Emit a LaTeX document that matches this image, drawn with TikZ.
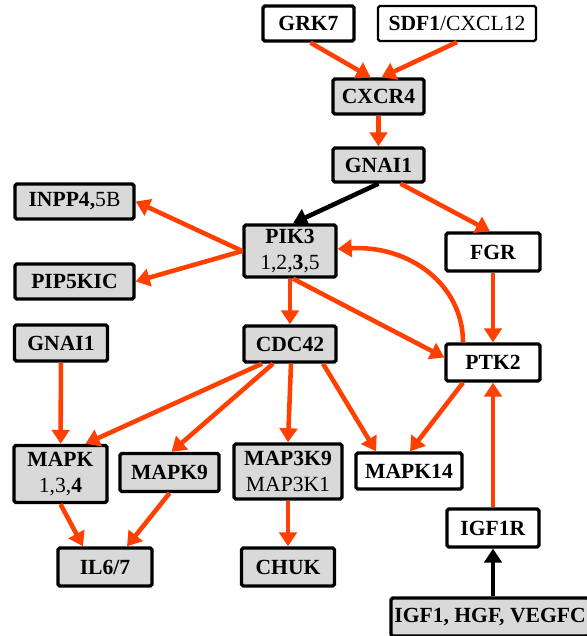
\documentclass[tikz,border=0pt]{standalone}
\usepackage{fontspec}
\setmainfont{Liberation Serif}
\usetikzlibrary{arrows.meta, calc}

\definecolor{actred}{RGB}{255,64,0}
\definecolor{boxgray}{RGB}{217,217,217}

\begin{document}
\begin{tikzpicture}[
        x=0.02cm, y=-0.02cm,
        gbox/.style={draw=black, line width=1.9pt, fill=boxgray,
                     rounded corners=1pt, inner sep=0pt, align=center,
                     font=\fontsize{12.3}{14.5}\selectfont},
        wbox/.style={gbox, fill=white},
        sz/.style 2 args={minimum width=#1*0.02cm, minimum height=#2*0.02cm},
        act/.style={-{Triangle[length=8pt, width=10pt]}, line width=2.6pt, actred},
        bind/.style={-{Triangle[length=8pt, width=10pt]}, line width=2.6pt, black}
    ]
        \useasboundingbox (0,0) rectangle (587,636);

        % top row
        \node[wbox, sz={91}{35}] (grk) at (308.5,23.5) {\textbf{GRK7}};
        \node[wbox, sz={158}{35}, line width=1.3pt] (sdf) at (457,23.5) {\textbf{SDF1}/CXCL12};
        \node[gbox, sz={91}{35}] (cxcr) at (378.5,96.5) {\textbf{CXCR4}};
        \node[gbox, sz={91}{34}] (gnaiA) at (378.5,165) {\textbf{GNAI1}};

        % middle
        \node[gbox, sz={119}{35}] (inpp) at (74.5,201.5) {\textbf{INPP4,}5B};
        \node[gbox, sz={92}{52}] (pik) at (290,251) {\textbf{PIK3}\\1,2,\textbf{3},5};
        \node[wbox, sz={94}{38}] (fgr) at (493,252) {\textbf{FGR}};
        \node[gbox, sz={119}{35}] (pip) at (74.5,281.5) {\textbf{PIP5KIC}};
        \node[gbox, sz={93}{36}] (gnaiB) at (61,343) {\textbf{GNAI1}};
        \node[gbox, sz={92}{36}] (cdc) at (290,344) {\textbf{CDC42}};
        \node[wbox, sz={94}{37}] (ptk) at (493,362.5) {\textbf{PTK2}};

        % lower rows
        \node[gbox, sz={93}{57}] (mapk) at (60.5,474) {\textbf{MAPK}\\1,3,\textbf{4}};
        \node[gbox, sz={99}{38}] (mapknine) at (169.5,472.5) {\textbf{MAPK9}};
        \node[gbox, sz={108}{55}] (mapkkk) at (288,471.5) {\textbf{MAP3K9}\\MAP3K1};
        \node[wbox, sz={106}{36}] (mapkft) at (409,471) {\textbf{MAPK14}};
        \node[wbox, sz={92}{38}] (igfr) at (493,528) {\textbf{IGF1R}};
        \node[gbox, sz={94}{38}] (il) at (105,567) {\textbf{IL6/7}};
        \node[gbox, sz={93}{38}] (chuk) at (288,567) {\textbf{CHUK}};
        \node[gbox, sz={198}{38}] (igf) at (490,617) {\textbf{IGF1, HGF, VEGFC}};

        % connectors
        \draw[act] ($(grk.south)+(2,0)$) -- ($(cxcr.north)+(-8,0)$);
        \draw[act] (sdf.south) -- ($(cxcr.north)+(3,0)$);
        \draw[act] (cxcr) -- (gnaiA);
        \draw[bind] (gnaiA.south) -- ($(pik.north)+(3,0)$);
        \draw[act] ($(gnaiA.south)+(22,0)$) -- ($(fgr.north)+(-3,0)$);
        \draw[act] (pik.west) -- (inpp.east);
        \draw[act] (pik.west) -- (pip.east);
        \draw[act] (pik) -- (cdc);
        \draw[act] ($(pik.south)+(3,0)$) -- ($(ptk.west)+(0,-5)$);
        \draw[act] ($(ptk.north)+(-30,0)$) .. controls (463,285) and (410,245) .. ($(pik.east)+(0,-2)$);
        \draw[act] (fgr) -- (ptk);
        \draw[act] (gnaiB) -- (mapk);
        \draw[act] ($(cdc.south)+(-28,0)$) -- ($(mapk.north)+(25,0)$);
        \draw[act] ($(cdc.south)+(-17,0)$) -- ($(mapknine.north)+(2,0)$);
        \draw[act] ($(cdc.south)+(1,0)$) -- (mapkkk.north);
        \draw[act] ($(cdc.south)+(33,0)$) -- ($(mapkft.north)+(-33,0)$);
        \draw[act] ($(ptk.south)+(-30,0)$) -- ($(mapkft.north)+(1,0)$);
        \draw[act] (igfr) -- (ptk);
        \draw[bind] ($(igf.north)+(3,0)$) -- (igfr.south);
        \draw[act] (mapk.south) -- ($(il.north)+(-22,0)$);
        \draw[act] (mapknine.south) -- ($(il.north)+(22,0)$);
        \draw[act] (mapkkk) -- (chuk);
    \end{tikzpicture}
\end{document}
